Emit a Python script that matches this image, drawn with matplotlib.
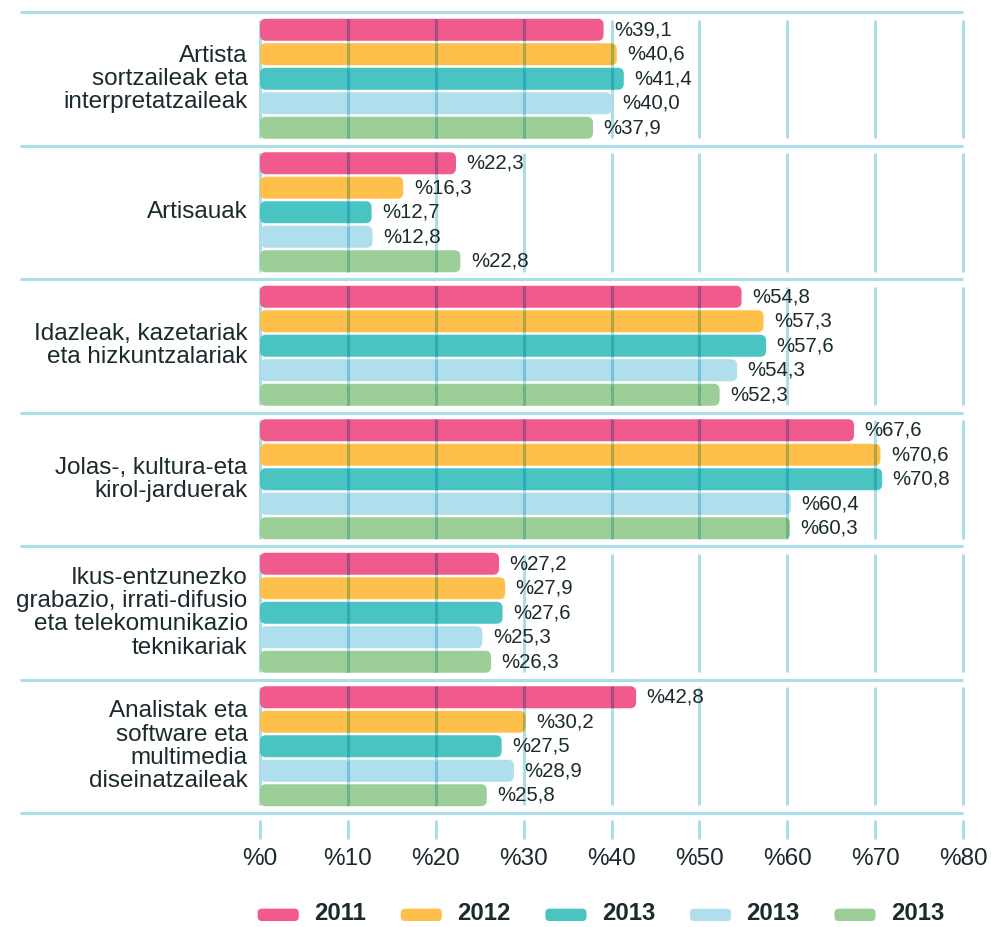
import matplotlib
matplotlib.use("Agg")
import matplotlib.pyplot as plt
import matplotlib.colors as mcolors
from matplotlib.patches import FancyBboxPatch, Patch
from matplotlib.legend_handler import HandlerPatch
from matplotlib.collections import LineCollection
import numpy as np

# ---------------- data ----------------
categories = [
    "Artista\nsortzaileak eta\ninterpretatzaileak",
    "Artisauak",
    "Idazleak, kazetariak\neta hizkuntzalariak",
    "Jolas-, kultura-eta\nkirol-jarduerak",
    "Ikus-entzunezko\ngrabazio, irrati-difusio\neta telekomunikazio\nteknikariak",
    "Analistak eta\nsoftware eta\nmultimedia\ndiseinatzaileak",
]
series_labels = ["2011", "2012", "2013", "2013", "2013"]
v2011 = [39.1, 22.3, 54.8, 67.6, 27.2, 42.8]
v2012 = [40.6, 16.3, 57.3, 70.6, 27.9, 30.2]
v2013a = [41.4, 12.7, 57.6, 70.8, 27.6, 27.5]
v2013b = [40.0, 12.8, 54.3, 60.4, 25.3, 28.9]
v2013c = [37.9, 22.8, 52.3, 60.3, 26.3, 25.8]
xticks = [0, 10, 20, 30, 40, 50, 60, 70, 80]
tick_labels = ["%0", "%10", "%20", "%30", "%40", "%50", "%60", "%70", "%80"]

series_values = [v2011, v2012, v2013a, v2013b, v2013c]
colors = ["#f05a8c", "#fec04a", "#49c4c3", "#afdfec", "#9ccf97"]
line_color = "#acdeea"
text_color = "#1b2a2c"

REG = ["Liberation Sans", "DejaVu Sans"]


def multiply(c1, c2):
    a = np.array(mcolors.to_rgb(c1))
    b = np.array(mcolors.to_rgb(c2))
    return tuple(a * b)


# ---------------- layout (pixel based) ----------------
W, H = 991, 927
fig = plt.figure(figsize=(W / 100, H / 100), dpi=100)
x0_px, x80_px = 260, 963
ppu = (x80_px - x0_px) / 80.0
ax_l_px, ax_r_px = 20, 972
ax_t_px, ax_b_px = 8, 842
sep_top_px = 12
pitch = 24.5
G = 133.5 / pitch  # group height in bar pitches
n_groups = len(categories)

xlim = ((ax_l_px - x0_px) / ppu, (ax_r_px - x0_px) / ppu)
ylim = ((ax_b_px - sep_top_px) / pitch, (ax_t_px - sep_top_px) / pitch)

ax = fig.add_axes([ax_l_px / W, 1 - ax_b_px / H,
                   (ax_r_px - ax_l_px) / W, (ax_b_px - ax_t_px) / H])
ax.set_xlim(*xlim)
ax.set_ylim(*ylim)
for s in ax.spines.values():
    s.set_visible(False)
ax.set_yticks([])
ax.set_xticks(xticks)
ax.set_xticklabels(tick_labels, fontsize=17.5, family=REG, color=text_color)
ax.tick_params(axis="x", length=0, pad=4)

lw = 2.2
# group separators
ax.hlines(np.arange(n_groups + 1) * G, xlim[0], 80, color=line_color, lw=lw, zorder=1)
# vertical grid lines per group
inset = 7.5 / pitch
for g in range(n_groups):
    ax.vlines(xticks, g * G + inset, (g + 1) * G - inset, color=line_color, lw=lw, zorder=1)
# tick marks below
ax.vlines(xticks, n_groups * G + 7 / pitch, n_groups * G + 26 / pitch,
          color=line_color, lw=lw, zorder=1)

# bars
bar_h = 22 / pitch
rx = 6 / ppu
aspect = ppu / pitch
for k, (vals, col) in enumerate(zip(series_values, colors)):
    ys = [g * G + G / 2 + (k - 2) for g in range(n_groups)]
    bars = ax.barh(ys, vals, height=bar_h, color=col, zorder=2)
    for rect, v, y in zip(bars, vals, ys):
        rect.set_visible(False)
        bx, by = rect.get_x(), rect.get_y()
        bw, bh = rect.get_width(), rect.get_height()
        patch = FancyBboxPatch((bx, by), bw, bh,
                               boxstyle=f"round,pad=0,rounding_size={rx}",
                               mutation_aspect=aspect,
                               facecolor=col, edgecolor="none", zorder=2)
        ax.add_patch(patch)
        segs = [[(t, by), (t, by + bh)] for t in xticks if 0 < t < v]
        if segs:
            lc = LineCollection(segs, colors=[multiply(col, line_color)],
                                linewidths=lw, zorder=3)
            ax.add_collection(lc)
            lc.set_clip_path(patch)
        ax.text(v + 1.2, y, ("%" + f"{v:.1f}").replace(".", ","),
                ha="left", va="center", fontsize=14.7, family=REG,
                color=text_color, zorder=4)

# category labels
for g, lab in enumerate(categories):
    ax.text(-1.4, g * G + G / 2, lab, ha="right", va="center",
            fontsize=17.5, family=REG, color=text_color, linespacing=1.07)


# legend with rounded handles
def round_patch(legend, orig_handle, xdescent, ydescent, width, height, fontsize):
    return FancyBboxPatch((-xdescent, -ydescent - 0.12 * fontsize), width, height,
                          boxstyle="round,pad=0,rounding_size=3")


handles = [Patch(facecolor=c, edgecolor="none", label=l)
           for c, l in zip(colors, series_labels)]
fig.legend(handles=handles, loc="center", ncol=5, frameon=False,
           bbox_to_anchor=(601 / W, 1 - 914 / H),
           prop=dict(family=REG, weight="bold", size=17.2),
           labelcolor=text_color, handlelength=1.72, handleheight=0.42,
           handletextpad=0.65, columnspacing=1.45,
           handler_map={Patch: HandlerPatch(patch_func=round_patch)})

fig.savefig("out.png", dpi=100, facecolor="white")
